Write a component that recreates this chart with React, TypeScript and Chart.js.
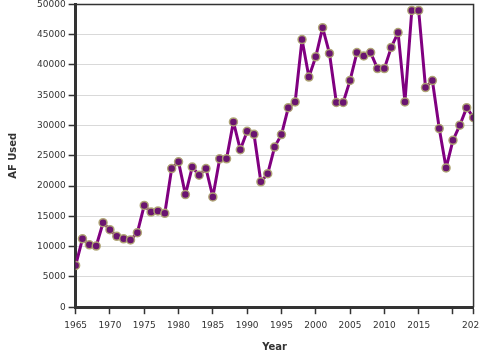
import React, { useEffect, useRef } from "react";
import { Chart, registerables } from "chart.js";

Chart.register(...registerables);

const years: number[] = [
  1965, 1966, 1967, 1968, 1969, 1970, 1971, 1972, 1973, 1974,
  1975, 1976, 1977, 1978, 1979, 1980, 1981, 1982, 1983, 1984,
  1985, 1986, 1987, 1988, 1989, 1990, 1991, 1992, 1993, 1994,
  1995, 1996, 1997, 1998, 1999, 2000, 2001, 2002, 2003, 2004,
  2005, 2006, 2007, 2008, 2009, 2010, 2011, 2012, 2013, 2014,
  2015, 2016, 2017, 2018, 2019, 2020, 2021, 2022, 2023,
];

const afUsed: number[] = [
  6900, 11300, 10300, 10100, 13950, 12800, 11700, 11300, 11100, 12300,
  16800, 15700, 15900, 15500, 22900, 24000, 18600, 23150, 21800, 22900,
  18200, 24500, 24500, 30600, 26000, 29050, 28550, 20700, 22050, 26450,
  28500, 32950, 33900, 44200, 38000, 41350, 46150, 41900, 33800, 33800,
  37450, 42050, 41500, 42050, 39400, 39400, 42900, 45350, 33900, 49000,
  49000, 36270, 37430, 29500, 23000, 27550, 30050, 32950, 31300,
];

const xTickValues: number[] = [1965, 1970, 1975, 1980, 1985, 1990, 1995, 2000, 2005, 2010, 2015, 2020, 2023];
const xHiddenLabels: number[] = [2020];
const yTickMin = 0;
const yTickMax = 50000;
const yTickStep = 5000;

const FONT = "'DejaVu Sans', Verdana, sans-serif";

const frame = {
  id: "frame",
  afterDraw(chart: any) {
    const { ctx, chartArea } = chart;
    ctx.save();
    ctx.strokeStyle = "#333";
    ctx.lineWidth = 1.5;
    ctx.beginPath();
    ctx.moveTo(chartArea.left, chartArea.top);
    ctx.lineTo(chartArea.right, chartArea.top);
    ctx.lineTo(chartArea.right, chartArea.bottom);
    ctx.stroke();
    ctx.restore();
  },
};

export default function App() {
  const ref = useRef<HTMLCanvasElement>(null);
  useEffect(() => {
    document.body.style.margin = "0";
    const chart = new Chart(ref.current!, {
      type: "line",
      data: {
        datasets: [
          {
            data: years.map((y, i) => ({ x: y, y: afUsed[i] })),
            borderColor: "#800080",
            borderWidth: 3,
            borderJoinStyle: "round",
            pointRadius: 4,
            pointBorderWidth: 1.5,
            pointBackgroundColor: "#6a1470",
            pointBorderColor: "rgba(175,165,115,0.95)",
            tension: 0,
          },
        ],
      },
      options: {
        responsive: false,
        animation: false,
        layout: { padding: { left: 7, top: 0, right: 0, bottom: 2 } },
        plugins: { legend: { display: false }, tooltip: { enabled: false } },
        scales: {
          x: {
            type: "linear",
            min: 1965,
            max: 2023,
            afterBuildTicks: (scale: any) => {
              scale.ticks = xTickValues.map((v) => ({ value: v }));
            },
            ticks: {
              autoSkip: false,
              maxRotation: 0,
              minRotation: 0,
              color: "#333",
              font: { family: FONT, size: 9 },
              padding: 6,
              callback: (v: any) => (xHiddenLabels.includes(Number(v)) ? "" : String(v)),
            },
            grid: { drawOnChartArea: false, drawTicks: true, tickLength: 7, tickColor: "#333", tickWidth: 1.5 },
            border: { display: true, color: "#333", width: 3 },
            title: { display: true, text: "Year", color: "#333", font: { family: FONT, size: 10, weight: "bold" }, padding: { top: 4, bottom: 0 } },
          },
          y: {
            min: yTickMin,
            max: yTickMax,
            ticks: {
              stepSize: yTickStep,
              color: "#333",
              font: { family: FONT, size: 9 },
              padding: 3,
              callback: (v: any) => String(v),
            },
            grid: { color: "#d9d9d9", lineWidth: 1, drawTicks: true, tickLength: 7, tickColor: "#333", tickWidth: 1.5 },
            border: { display: true, color: "#333", width: 3 },
            title: { display: true, text: "AF Used", color: "#333", font: { family: FONT, size: 10, weight: "bold" }, padding: { top: 0, bottom: 15 } },
          },
        },
      },
      plugins: [frame],
    });
    return () => chart.destroy();
  }, []);
  return (
    <div style={{ width: 480, height: 360, overflow: "hidden" }}>
      <canvas ref={ref} width={491} height={359} style={{ display: "block", marginTop: -4 }} />
    </div>
  );
}
